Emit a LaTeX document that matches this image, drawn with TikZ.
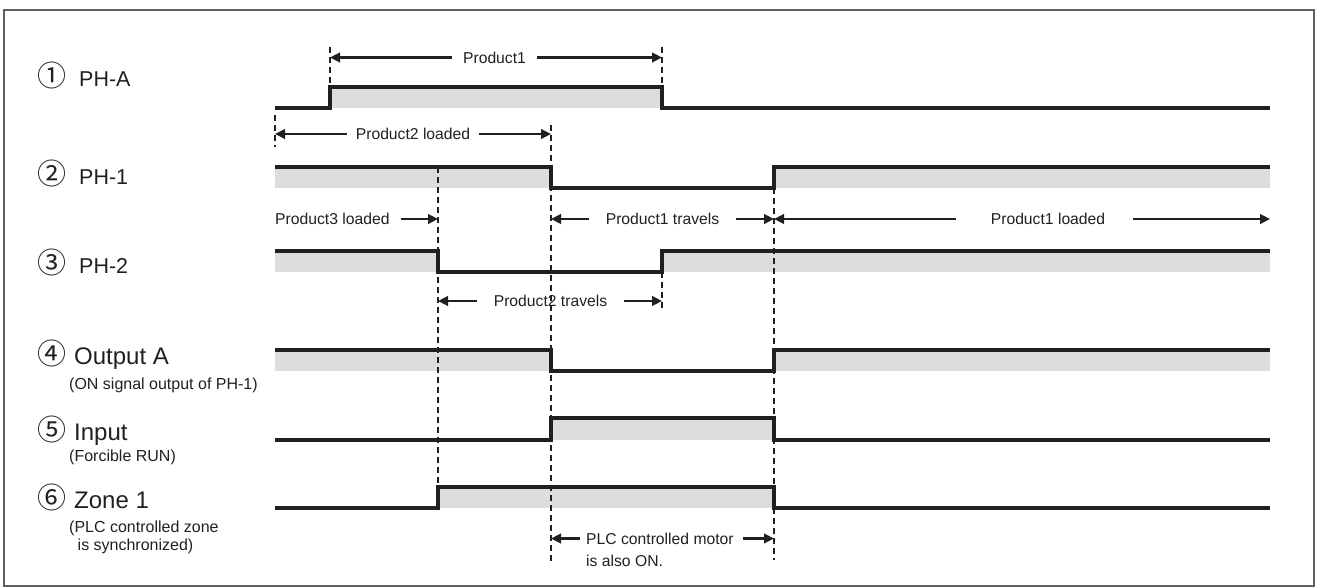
\documentclass[tikz,border=0pt]{standalone}
\usepackage{fontspec}
\setmainfont{Liberation Sans}
\newfontfamily\cjk{Noto Sans CJK JP}
\usetikzlibrary{arrows.meta}
\definecolor{ink}{RGB}{35,31,32}
\definecolor{shade}{RGB}{220,221,223}
\definecolor{framec}{RGB}{95,95,95}
\newcommand{\cnum}[2]{{\cjk\fontsize{29}{30}\selectfont #1}\hspace{#2}}
\begin{document}
\begin{tikzpicture}[x=1pt,y=-1pt,
  wave/.style={draw=ink, line width=3.1pt, line join=miter},
  band/.style={fill=shade, draw=none},
  guide/.style={draw=ink, line width=1.2pt, dash pattern=on 6pt off 4pt},
  arr/.style={draw=ink, line width=2.9pt, -{Triangle[length=10pt,width=9.5pt]}},
  tag/.style={text=ink, font=\fontsize{15.7}{18}\selectfont, inner sep=0pt},
  sig/.style={text=ink, font=\fontsize{21.5}{24}\selectfont, anchor=base west, inner sep=0pt},
  sigbig/.style={text=ink, font=\fontsize{24}{28}\selectfont, anchor=base west, inner sep=0pt},
  note/.style={text=ink, font=\fontsize{16}{18.5}\selectfont, anchor=base west, inner sep=0pt}
]
\useasboundingbox (0,0) rectangle (1317,588);
\draw[framec, line width=1.3pt] (4,10) rectangle (1314,586);

% guide coordinates
\coordinate (g1t) at (330,47);  \coordinate (g1b) at (330,87);
\coordinate (g4t) at (662,47);  \coordinate (g4b) at (662,87);
\coordinate (g4u) at (662,272); \coordinate (g4d) at (662,311);
\coordinate (g0t) at (275,115); \coordinate (g0b) at (275,147);
\coordinate (g3t) at (551,125); \coordinate (g3b) at (551,563);
\coordinate (g2t) at (438,167); \coordinate (g2b) at (438,487);
\coordinate (g5t) at (774,188); \coordinate (g5b) at (774,560);
\coordinate (gR) at (1270,219);

% shaded bands
\fill[band] (330,87) rectangle (662,108);
\fill[band] (275,167) rectangle (551,188);
\fill[band] (774,167) rectangle (1270,188);
\fill[band] (275,251) rectangle (438,272);
\fill[band] (662,251) rectangle (1270,272);
\fill[band] (275,350) rectangle (551,371);
\fill[band] (774,350) rectangle (1270,371);
\fill[band] (551,418) rectangle (774,440);
\fill[band] (438,487) rectangle (774,508);

% dashed guides
\draw[guide] (g1t) -- (g1b);
\draw[guide] (g4t) -- (g4b);
\draw[guide] (g4u) -- (g4d);
\draw[guide] (g0t) -- (g0b);
\draw[guide] (g3t) -- (g3b);
\draw[guide] (g2t) -- (g2b);
\draw[guide] (g5t) -- (g5b);

% waveforms
\draw[wave] (275,108) -- (330,108) -- (330,87) -- (662,87) -- (662,108) -- (1270,108);
\draw[wave] (275,167) -- (551,167) -- (551,188) -- (774,188) -- (774,167) -- (1270,167);
\draw[wave] (275,251) -- (438,251) -- (438,272) -- (662,272) -- (662,251) -- (1270,251);
\draw[wave] (275,350) -- (551,350) -- (551,371) -- (774,371) -- (774,350) -- (1270,350);
\draw[wave] (275,440) -- (551,440) -- (551,418) -- (774,418) -- (774,440) -- (1270,440);
\draw[wave] (275,508) -- (438,508) -- (438,487) -- (774,487) -- (774,508) -- (1270,508);

% signal names
\node[sig] (la) at (37,87) {\cnum{①}{13pt}PH-A};
\node[sig] (l1) at (37,185) {\cnum{②}{13pt}PH-1};
\node[sig] (l2) at (37,273) {\cnum{③}{13pt}PH-2};
\node[sigbig] (lo) at (37,364) {\cnum{④}{8pt}Output A};
\node[note] (lon) at (69,389) {(ON signal output of PH-1)};
\node[sigbig] (li) at (37,440) {\cnum{⑤}{8pt}Input};
\node[note] (lin) at (69,461.5) {(Forcible RUN)};
\node[sigbig] (lz) at (37,508) {\cnum{⑥}{8pt}Zone 1};
\node[note] (lzn) at (69,532.5) {(PLC controlled zone};
\node[note] (lzn2) at (77.5,550.5) {is synchronized)};

% interval arrows
\node[tag, inner xsep=11pt] (p1) at (494.5,57.5) {Product1};
\draw[arr] (p1.west) -- (p1.west -| g1t);
\draw[arr] (p1.east) -- (p1.east -| g4t);

\node[tag, inner xsep=9pt] (p2) at (413,134) {Product2 loaded};
\draw[arr] (p2.west) -- (p2.west -| g0t);
\draw[arr] (p2.east) -- (p2.east -| g3t);

\node[tag, anchor=west] (p3) at (275,219) {Product3 loaded};
\draw[arr] ([xshift=11pt]p3.east) -- (p3.east -| g2t);

\node[tag, inner xsep=17pt] (p1t) at (662.5,219) {Product1 travels};
\draw[arr] (p1t.west) -- (p1t.west -| g3t);
\draw[arr] (p1t.east) -- (p1t.east -| g5t);

\node[tag] (p1l) at (1048,219) {Product1 loaded};
\draw[arr] ([xshift=-35pt]p1l.west) -- (p1l.west -| g5t);
\draw[arr] ([xshift=28pt]p1l.east) -- (gR);

\node[tag, inner xsep=17pt] (p2t) at (550.5,301) {Product2 travels};
\draw[arr] (p2t.west) -- (p2t.west -| g2t);
\draw[arr] (p2t.east) -- (p2t.east -| g4t);

\node[tag, anchor=west] (plc) at (586,538.5) {PLC controlled motor};
\draw[arr] ([xshift=-6pt]plc.west) -- (plc.west -| g3t);
\draw[arr] ([xshift=9pt]plc.east) -- (plc.east -| g5t);
\node[tag, anchor=base west] (on) at (586,566) {is also ON.};
\end{tikzpicture}
\end{document}
